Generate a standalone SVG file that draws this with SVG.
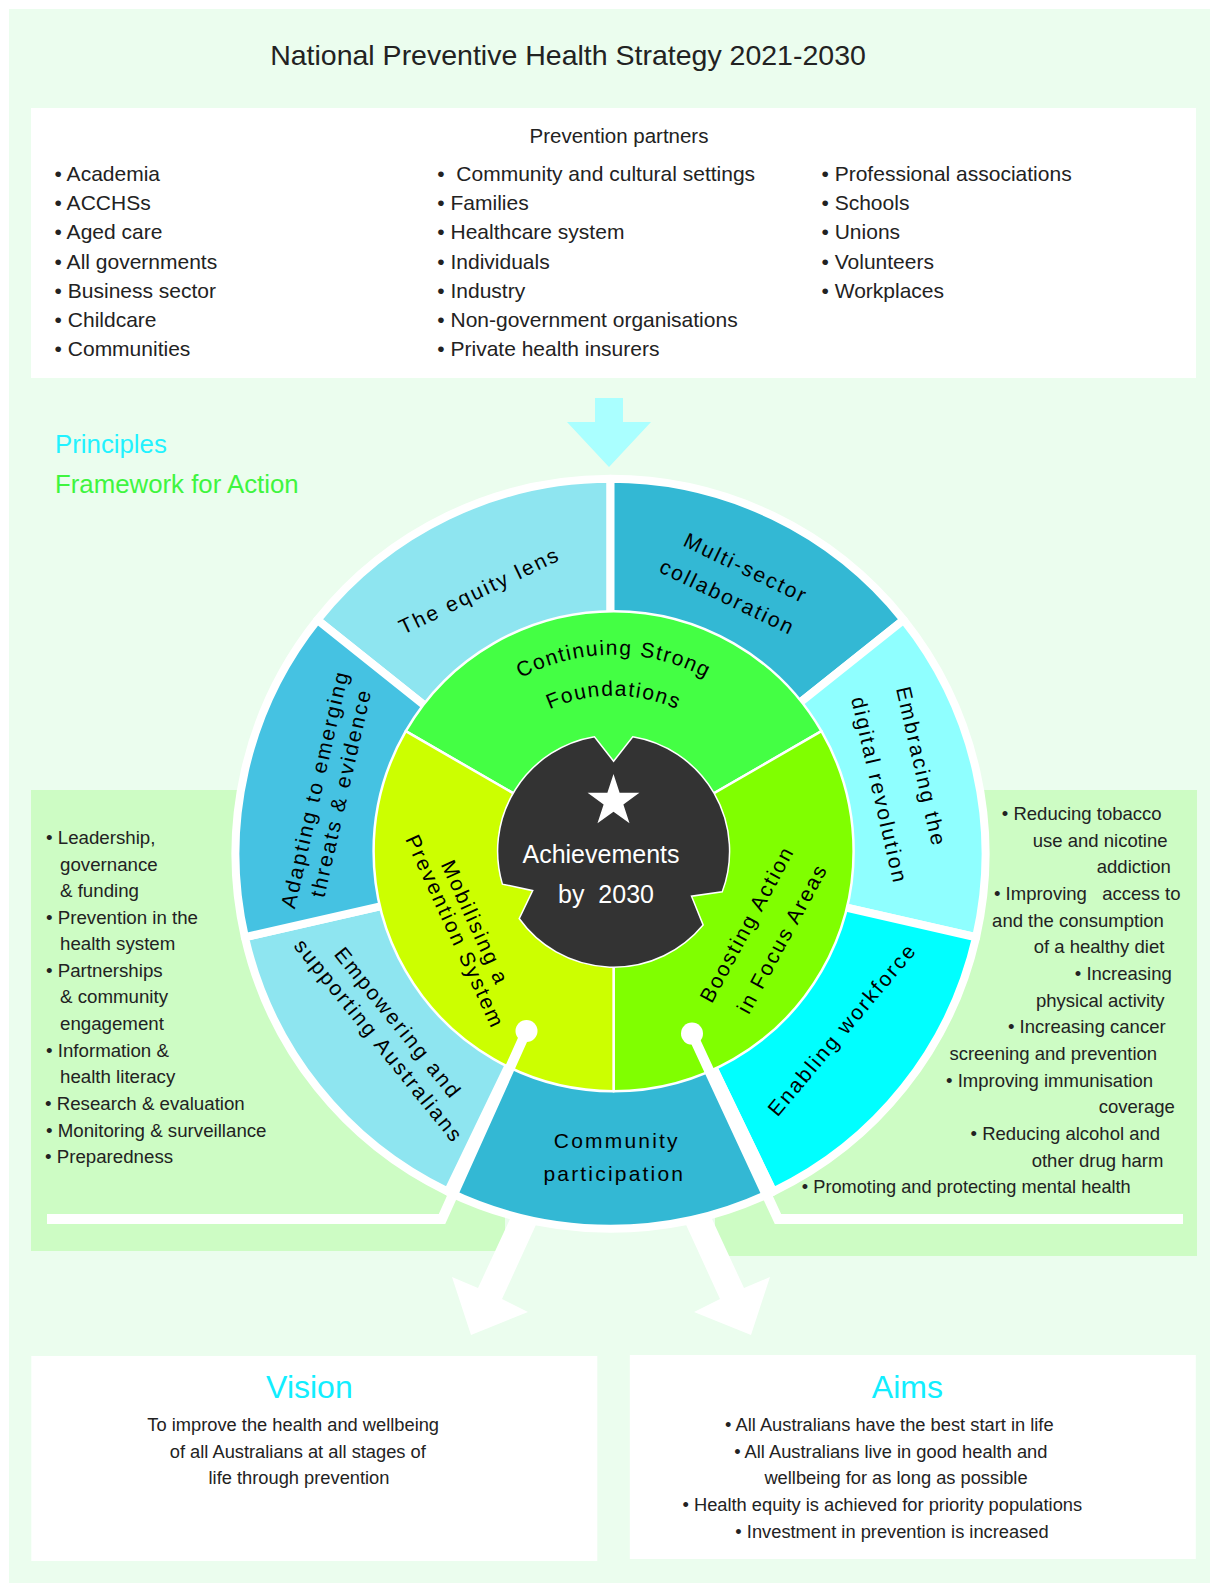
<svg xmlns="http://www.w3.org/2000/svg" width="1210" height="1583" viewBox="0 0 1210 1583">
<style>
text{font-family:"Liberation Sans",Arial,sans-serif;}
.t{fill:#222;font-size:21px}
.p{fill:#222;font-size:18.7px}
.pm{fill:#222;font-size:18.5px;text-anchor:middle}
.v{fill:#222;font-size:18.3px;text-anchor:middle}
.h{fill:#11eeff;font-size:32px;text-anchor:middle}
.lab{fill:#000;font-size:21px;letter-spacing:2.2px;text-anchor:middle}
.ilab{fill:#000;font-size:21px;letter-spacing:2px;text-anchor:middle}
.arc{fill:#000;font-size:21px;letter-spacing:1.5px;text-anchor:middle}
.seg{stroke:#fff;stroke-width:8;stroke-linejoin:round}
.iseg{stroke:#fff;stroke-width:2.5;stroke-linejoin:round}
.box{fill:#fff}
.panel{fill:#cdfcc4}
</style>
<defs>
<path id="arcCS" d="M 443.43 752.95 A 196.5 196.5 0 0 1 783.77 752.95"/>
<path id="arcF" d="M 478.93 773.45 A 155.5 155.5 0 0 1 748.27 773.45"/>
</defs>

<g id="background"><rect x="9" y="9" width="1201" height="1574" fill="#ebfdee"/></g>

<g id="title"><text x="568" y="65" style="font-size:28.5px;fill:#222" text-anchor="middle">National Preventive Health Strategy 2021-2030</text></g>

<g id="partners">
<rect class="box" x="31" y="108" width="1165" height="270"/>
<text x="619" y="142.5" text-anchor="middle" style="font-size:20.5px;fill:#222">Prevention partners</text>
<text class="t" x="54.6" y="181">• Academia</text>
<text class="t" x="54.6" y="210.2">• ACCHSs</text>
<text class="t" x="54.6" y="239.3">• Aged care</text>
<text class="t" x="54.6" y="268.5">• All governments</text>
<text class="t" x="54.6" y="297.7">• Business sector</text>
<text class="t" x="54.6" y="326.8">• Childcare</text>
<text class="t" x="54.6" y="356">• Communities</text>
<text class="t" x="437.3" y="181" xml:space="preserve">•  Community and cultural settings</text>
<text class="t" x="437.3" y="210.2">• Families</text>
<text class="t" x="437.3" y="239.3">• Healthcare system</text>
<text class="t" x="437.3" y="268.5">• Individuals</text>
<text class="t" x="437.3" y="297.7">• Industry</text>
<text class="t" x="437.3" y="326.8">• Non-government organisations</text>
<text class="t" x="437.3" y="356">• Private health insurers</text>
<text class="t" x="821.5" y="181">• Professional associations</text>
<text class="t" x="821.5" y="210.2">• Schools</text>
<text class="t" x="821.5" y="239.3">• Unions</text>
<text class="t" x="821.5" y="268.5">• Volunteers</text>
<text class="t" x="821.5" y="297.7">• Workplaces</text>
</g>

<g id="legend">
<text x="55" y="453" style="font-size:25.8px;fill:#22f2ff">Principles</text>
<text x="55" y="492.6" style="font-size:25.8px;fill:#3ff53f">Framework for Action</text>
</g>

<g id="enablers-panel">
<rect class="panel" x="31" y="790" width="474" height="461"/>
<text class="p" x="46" y="844">• Leadership,</text>
<text class="p" x="60" y="870.5">governance</text>
<text class="p" x="60" y="897">&amp; funding</text>
<text class="p" x="46" y="923.5">• Prevention in the</text>
<text class="p" x="60" y="950">health system</text>
<text class="p" x="46" y="976.7">• Partnerships</text>
<text class="p" x="60" y="1003.3">&amp; community</text>
<text class="p" x="60" y="1030">engagement</text>
<text class="p" x="46" y="1056.7">• Information &amp;</text>
<text class="p" x="60" y="1083.3">health literacy</text>
<text class="p" x="45" y="1110">• Research &amp; evaluation</text>
<text class="p" x="46" y="1136.7">• Monitoring &amp; surveillance</text>
<text class="p" x="45" y="1163.3">• Preparedness</text>
</g>

<g id="focus-areas-panel">
<rect class="panel" x="715" y="790" width="482" height="466"/>
<text class="pm" x="1081.7" y="820">• Reducing tobacco</text>
<text class="pm" x="1100.2" y="846.7">use and nicotine</text>
<text class="pm" x="1133.8" y="873.3">addiction</text>
<text class="p" y="900" style="font-size:18.5px"><tspan x="994">• Improving </tspan><tspan x="1102.3">access </tspan><tspan x="1165">to</tspan></text>
<text class="pm" x="1078" y="926.7">and the consumption</text>
<text class="pm" x="1099" y="953.3">of a healthy diet</text>
<text class="pm" x="1123.3" y="980">• Increasing</text>
<text class="pm" x="1100.3" y="1006.7">physical activity</text>
<text class="pm" x="1086.8" y="1033.3">• Increasing cancer</text>
<text class="pm" x="1053.3" y="1060">screening and prevention</text>
<text class="pm" x="1049.5" y="1086.7">• Improving immunisation</text>
<text class="pm" x="1136.7" y="1113.3">coverage</text>
<text class="pm" x="1065.3" y="1140">• Reducing alcohol and</text>
<text class="pm" x="1097.5" y="1166.7">other drug harm</text>
<text class="pm" x="966.3" y="1193.3" style="font-size:18.2px">• Promoting and protecting mental health</text>
</g>

<g id="vision">
<rect class="box" x="31.3" y="1356" width="566" height="205"/>
<text class="h" x="309.4" y="1398">Vision</text>
<text class="v" x="293.2" y="1431">To improve the health and wellbeing</text>
<text class="v" x="297.8" y="1457.7">of all Australians at all stages of</text>
<text class="v" x="299" y="1484.3">life through prevention</text>
</g>

<g id="aims">
<rect class="box" x="629.8" y="1355" width="566" height="204"/>
<text class="h" x="907.4" y="1398">Aims</text>
<text class="v" x="889.3" y="1431">• All Australians have the best start in life</text>
<text class="v" x="890.8" y="1457.7">• All Australians live in good health and</text>
<text class="v" x="896" y="1484.3">wellbeing for as long as possible</text>
<text class="v" x="882.3" y="1511">• Health equity is achieved for priority populations</text>
<text class="v" x="892" y="1537.7">• Investment in prevention is increased</text>
</g>

<g id="principle-equity-lens">
<path class="seg" fill="#8ee5f0" d="M610.5 853.8 L317.31 619.99 A375 375 0 0 1 610.5 478.8 Z"/>
<text class="lab" transform="translate(482.5,597.1) rotate(-25.5)">The equity lens</text>
</g>
<g id="principle-multi-sector">
<path class="seg" fill="#33b8d4" d="M610.5 853.8 L610.5 478.8 A375 375 0 0 1 903.69 619.99 Z"/>
<text class="lab" transform="translate(742.8,574.6) rotate(25.7)"><tspan x="0" y="0">Multi-sector</tspan><tspan x="-4" y="34">collaboration</tspan></text>
</g>
<g id="principle-digital">
<path class="seg" fill="#8fffff" d="M610.5 853.8 L903.69 619.99 A375 375 0 0 1 976.1 937.25 Z"/>
<text class="lab" transform="translate(914.2,768.4) rotate(77.1)"><tspan x="0" y="0">Embracing the</tspan><tspan x="13.6" y="46">digital revolution</tspan></text>
</g>
<g id="principle-workforce">
<path class="seg" fill="#00ffff" d="M610.5 853.8 L976.1 937.25 A375 375 0 0 1 773.21 1191.66 Z"/>
<text class="lab" transform="translate(847.7,1034) rotate(-50)">Enabling workforce</text>
</g>
<g id="principle-community">
<path class="seg" fill="#33b8d4" d="M610.5 853.8 L773.21 1191.66 A375 375 0 0 1 447.79 1191.66 Z"/>
<text class="lab" x="616.8" y="1148.3">Community</text>
<text class="lab" x="614.3" y="1181">participation</text>
</g>
<g id="principle-empowering">
<path class="seg" fill="#8ee5f0" d="M610.5 853.8 L447.79 1191.66 A375 375 0 0 1 244.9 937.25 Z"/>
<text class="lab" transform="translate(392.5,1027.6) rotate(51)"><tspan x="0" y="0">Empowering and</tspan><tspan x="1.8" y="26.1">supporting Australians</tspan></text>
</g>
<g id="principle-adapting">
<path class="seg" fill="#45c2e2" d="M610.5 853.8 L244.9 937.25 A375 375 0 0 1 317.31 619.99 Z"/>
<text class="lab" transform="translate(321.9,790.7) rotate(-77.14)"><tspan x="0" y="0">Adapting to emerging</tspan><tspan x="2.3" y="26.2">threats &amp; evidence</tspan></text>
</g>

<g id="action-foundations">
<path class="iseg" fill="#44ff44" d="M613.6 851.2 L405.75 731.2 A240 240 0 0 1 821.45 731.2 Z"/>
<text class="arc"><textPath href="#arcCS" startOffset="50%">Continuing Strong</textPath></text>
<text class="arc"><textPath href="#arcF" startOffset="50%">Foundations</textPath></text>
</g>
<g id="action-focus-areas">
<path class="iseg" fill="#80ff00" d="M613.6 851.2 L821.45 731.2 A240 240 0 0 1 613.6 1091.2 Z"/>
<text class="ilab" transform="translate(753.3,927.5) rotate(-61.6)"><tspan x="0" y="0">Boosting Action</tspan><tspan x="4.1" y="37.7">in Focus Areas</tspan></text>
</g>
<g id="action-prevention-system">
<path class="iseg" fill="#ccff00" d="M613.6 851.2 L613.6 1091.2 A240 240 0 0 1 405.75 731.2 Z"/>
<text class="ilab" transform="translate(466.3,926.6) rotate(65.5)"><tspan x="0" y="-2.5">Mobilising a</tspan><tspan x="0" y="19.5">Prevention System</tspan></text>
</g>

<g id="achievements">
<path fill="#333333" stroke="#fff" stroke-width="1.5" d="M632.75 736.79 A116 116 0 0 1 722.25 891.82 L691.54 896.2 L703.11 924.99 A116 116 0 0 1 519.16 918.56 L532.7 890.65 L502.38 884.15 A116 116 0 0 1 594.45 736.79 L613.6 761.2 Z"/>
<polygon fill="#fff" points="613.5,774 619.61,792.84 639.42,792.83 623.39,804.46 629.52,823.3 613.5,811.65 597.48,823.3 603.61,804.46 587.58,792.83 607.39,792.84"/>
<text x="601" y="862.5" text-anchor="middle" style="font-size:25px;fill:#fff">Achievements</text>
<text x="606" y="902.7" text-anchor="middle" xml:space="preserve" style="font-size:25px;fill:#fff">by  2030</text>
</g>

<g id="connectors">
<polygon fill="#aaffff" points="595,398 623,398 623,422 651,422 609,467 567,422 595,422"/>
<polygon fill="#fff" points="512.3,1214 478,1288 452,1277 471,1335 528,1312 502,1299 537.7,1221"/>
<polygon fill="#fff" points="709.7,1214 744,1288 770,1277 751,1335 694,1312 720,1299 684.3,1221"/>
<polyline fill="none" stroke="#fff" stroke-width="10" points="526.5,1031 442,1219 47,1219"/>
<polyline fill="none" stroke="#fff" stroke-width="10" points="692,1033.6 778,1219 1183,1219"/>
<circle cx="526.5" cy="1031" r="11" fill="#fff"/>
<circle cx="692" cy="1033.6" r="11" fill="#fff"/>
</g>
</svg>
